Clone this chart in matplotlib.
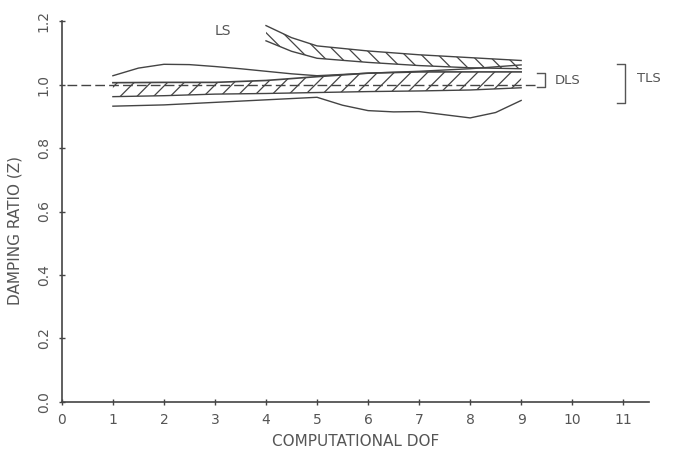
import numpy as np
import matplotlib
matplotlib.use('Agg')
import matplotlib.pyplot as plt

x_dof = [1, 2, 3, 4, 5, 6, 7, 8, 9]
dls_gora = [1.006, 1.007, 1.007, 1.013, 1.025, 1.036, 1.040, 1.040, 1.040]
dls_dol = [0.962, 0.965, 0.970, 0.972, 0.975, 0.978, 0.980, 0.983, 0.990]

x_tls_g = [1, 1.5, 2, 2.5, 3, 3.5, 4, 4.5, 5, 6, 7, 8, 9]
tls_gora = [1.028, 1.052, 1.064, 1.063, 1.057, 1.050, 1.042, 1.034, 1.028, 1.036, 1.042, 1.050, 1.062]

x_tls_d = [1, 2, 3, 4, 5, 5.5, 6, 6.5, 7, 7.5, 8, 8.5, 9]
tls_dol = [0.932, 0.936, 0.944, 0.952, 0.960, 0.935, 0.918, 0.914, 0.915, 0.905, 0.895, 0.912, 0.950]

x_ls = [4, 4.5, 5, 6, 7, 8, 9]
ls_gora = [1.186, 1.148, 1.122, 1.106, 1.094, 1.085, 1.076]
ls_dol = [1.138, 1.105, 1.083, 1.070, 1.060, 1.053, 1.050]

xticks = [0, 1, 2, 3, 4, 5, 6, 7, 8, 9, 10, 11]
yticks = [0.0, 0.2, 0.4, 0.6, 0.8, 1.0, 1.2]

kolor = '#444444'
kolor_txt = '#555555'
plt.rcParams['hatch.linewidth'] = 0.9
plt.rcParams['hatch.color'] = kolor

fig = plt.figure(figsize=(6.8, 4.5), dpi=100)
ax = fig.add_axes([0.091, 0.107, 0.863, 0.846])

# linia odniesienia 1.0
ax.plot([0.1, 9.3], [1.0, 1.0], color=kolor, lw=1.0, dashes=(7, 3))

# DLS
ax.fill_between(x_dof, dls_dol, dls_gora, facecolor='none', edgecolor=kolor,
                hatch='//', lw=0)
ax.plot(x_dof, dls_gora, color=kolor, lw=1.2)
ax.plot(x_dof, dls_dol, color=kolor, lw=1.0)

# TLS
ax.plot(x_tls_g, tls_gora, color=kolor, lw=1.0)
ax.plot(x_tls_d, tls_dol, color=kolor, lw=1.0)

# LS
ax.fill_between(x_ls, ls_dol, ls_gora, facecolor='none', edgecolor=kolor,
                hatch='\\\\', lw=0)
ax.plot(x_ls, ls_gora, color=kolor, lw=1.0)
ax.plot(x_ls, ls_dol, color=kolor, lw=1.0)

ax.text(3.15, 1.17, 'LS', color=kolor_txt, fontsize=10, ha='center', va='center')

# nawiasy
ax.plot([9.31, 9.47, 9.47, 9.31], [1.035, 1.035, 0.994, 0.994], color=kolor_txt,
        lw=1.0, clip_on=False)
ax.text(9.65, 1.014, 'DLS', color=kolor_txt, fontsize=9.5, ha='left', va='center')
ax.plot([10.88, 11.04, 11.04, 10.88], [1.066, 1.066, 0.943, 0.943], color=kolor_txt,
        lw=1.0, clip_on=False)
ax.text(11.27, 1.02, 'TLS', color=kolor_txt, fontsize=9.5, ha='left', va='center',
        clip_on=False)

ax.set_xlim(0, 11.5)
ax.set_ylim(0, 1.2)
ax.set_xticks(xticks)
ax.set_xticklabels([str(t) for t in xticks], color=kolor_txt, fontsize=10)
ax.set_yticks(yticks)
ax.set_yticklabels(['%.1f' % t for t in yticks], color=kolor_txt, fontsize=10,
                   rotation=90, va='center')

for s in ['top', 'right']:
    ax.spines[s].set_visible(False)
for s in ['left', 'bottom']:
    ax.spines[s].set_color(kolor)
    ax.spines[s].set_linewidth(1.2)
ax.tick_params(direction='inout', length=4, width=1, color=kolor, pad=6)

ax.set_xlabel('COMPUTATIONAL DOF', color=kolor_txt, fontsize=11)
ax.set_ylabel('DAMPING RATIO (Z)', color=kolor_txt, fontsize=11, va='center')
ax.xaxis.set_label_coords(0.5, -0.085)
ax.yaxis.set_label_coords(-0.08, 0.45)

fig.savefig('out.png', dpi=100)
